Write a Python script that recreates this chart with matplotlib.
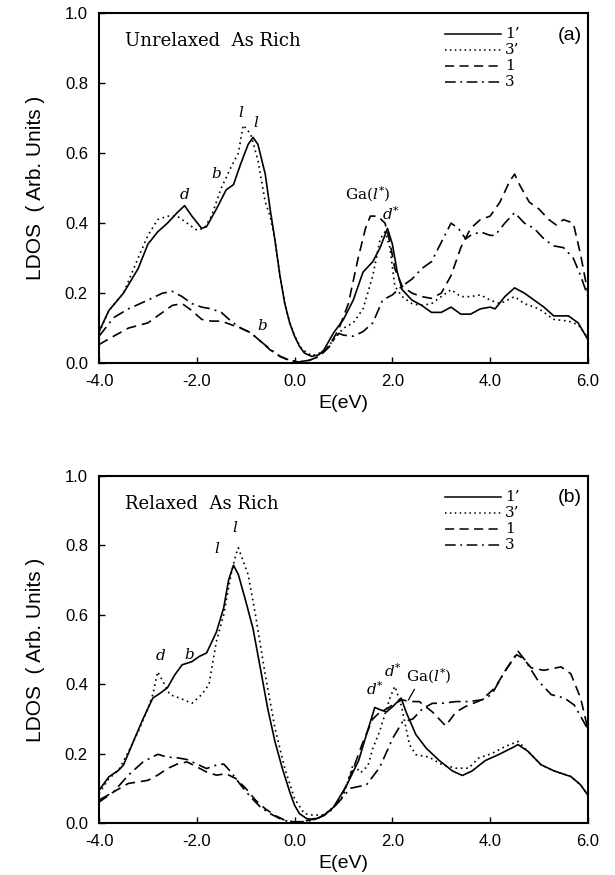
import matplotlib
matplotlib.use("Agg")
import matplotlib.pyplot as plt

plt.rcParams['font.family'] = 'Liberation Sans'
plt.rcParams['axes.unicode_minus'] = False
plt.rcParams['mathtext.fontset'] = 'dejavuserif'

# ---- panel (a): unrelaxed As rich ----
a_x1p = [-4, -3.8, -3.5, -3.2, -3.0, -2.8, -2.6, -2.4, -2.25, -2.1, -1.9, -1.8, -1.6, -1.4, -1.25, -1.1,
         -0.95, -0.85, -0.75, -0.6, -0.5, -0.4, -0.3, -0.2, -0.1, 0.0, 0.1, 0.2, 0.35, 0.5, 0.6, 0.8,
         1.0, 1.2, 1.4, 1.6, 1.75, 1.9, 2.0, 2.1, 2.2, 2.4, 2.6, 2.8, 3.0, 3.2, 3.4, 3.6, 3.8, 4.0,
         4.1, 4.3, 4.5, 4.7, 4.9, 5.1, 5.3, 5.6, 5.8, 6.0]
a_y1p = [0.09, 0.15, 0.20, 0.27, 0.34, 0.375, 0.40, 0.43, 0.45, 0.42, 0.385, 0.39, 0.44, 0.495, 0.51, 0.57,
         0.625, 0.645, 0.625, 0.54, 0.44, 0.35, 0.25, 0.17, 0.115, 0.077, 0.048, 0.029, 0.019, 0.024, 0.038, 0.087,
         0.125, 0.18, 0.26, 0.29, 0.33, 0.385, 0.34, 0.26, 0.21, 0.18, 0.165, 0.145, 0.145, 0.16, 0.14, 0.14, 0.155, 0.16,
         0.155, 0.19, 0.215, 0.20, 0.18, 0.16, 0.135, 0.135, 0.115, 0.067]

a_x3p = [-4, -3.8, -3.5, -3.2, -3.0, -2.8, -2.6, -2.4, -2.2, -2.0, -1.85, -1.7, -1.5, -1.3, -1.15, -1.05,
         -0.9, -0.75, -0.6, -0.5, -0.4, -0.3, -0.2, -0.1, 0.0, 0.15, 0.35, 0.6, 0.8, 1.0, 1.2, 1.4,
         1.6, 1.75, 1.85, 1.95, 2.05, 2.2, 2.4, 2.6, 2.8, 3.0, 3.2, 3.4, 3.6, 3.8, 4.0, 4.2, 4.5,
         4.7, 5.0, 5.3, 5.6, 5.8, 6.0]
a_y3p = [0.087, 0.15, 0.20, 0.30, 0.365, 0.41, 0.42, 0.42, 0.40, 0.38, 0.385, 0.42, 0.50, 0.56, 0.60, 0.68,
         0.655, 0.58, 0.46, 0.42, 0.35, 0.25, 0.17, 0.115, 0.077, 0.04, 0.021, 0.033, 0.067, 0.10, 0.115, 0.155,
         0.25, 0.355, 0.375, 0.33, 0.22, 0.19, 0.17, 0.165, 0.17, 0.19, 0.21, 0.19, 0.19, 0.195, 0.18, 0.17, 0.19,
         0.17, 0.155, 0.125, 0.12, 0.11, 0.072]

a_x1 = [-4, -3.7, -3.4, -3.0, -2.7, -2.5, -2.3, -2.1, -1.9, -1.7, -1.5, -1.3, -1.1, -0.9, -0.7, -0.5,
        -0.3, -0.1, 0.1, 0.3, 0.5, 0.7, 0.9, 1.1, 1.3, 1.45, 1.55, 1.7, 1.85, 1.95, 2.05, 2.2, 2.4,
        2.6, 2.8, 3.0, 3.2, 3.4, 3.6, 3.8, 4.0, 4.2, 4.4, 4.5, 4.6, 4.8, 5.0, 5.2, 5.35, 5.5, 5.7, 5.85, 6.0]
a_y1 = [0.053, 0.077, 0.10, 0.115, 0.145, 0.165, 0.17, 0.15, 0.125, 0.12, 0.12, 0.11, 0.10, 0.087, 0.063, 0.038,
        0.019, 0.007, 0.003, 0.008, 0.019, 0.048, 0.096, 0.17, 0.30, 0.385, 0.42, 0.42, 0.40, 0.345, 0.27, 0.22, 0.20,
        0.19, 0.185, 0.20, 0.25, 0.33, 0.385, 0.41, 0.42, 0.46, 0.52, 0.54, 0.51, 0.46, 0.44, 0.41, 0.395, 0.41, 0.40, 0.31, 0.20]

a_x3 = [-4, -3.7, -3.4, -3.0, -2.7, -2.5, -2.3, -2.1, -1.9, -1.7, -1.5, -1.3, -1.1, -0.9, -0.7, -0.5,
        -0.3, -0.1, 0.1, 0.3, 0.5, 0.7, 0.8, 0.9, 1.0, 1.2, 1.4, 1.6, 1.8, 2.0, 2.2, 2.4, 2.6, 2.8,
        3.0, 3.2, 3.35, 3.5, 3.6, 3.8, 4.0, 4.1, 4.3, 4.5, 4.7, 4.9, 5.1, 5.3, 5.5, 5.7, 5.85, 6.0]
a_y3 = [0.077, 0.13, 0.155, 0.18, 0.20, 0.205, 0.19, 0.17, 0.16, 0.155, 0.145, 0.12, 0.10, 0.087, 0.063, 0.04,
        0.02, 0.008, 0.004, 0.008, 0.019, 0.045, 0.067, 0.085, 0.08, 0.077, 0.09, 0.115, 0.18, 0.195, 0.22, 0.24, 0.27, 0.29,
        0.345, 0.40, 0.385, 0.355, 0.365, 0.375, 0.365, 0.365, 0.40, 0.43, 0.40, 0.385, 0.355, 0.335, 0.33, 0.30, 0.25, 0.19]

# ---- panel (b): relaxed As rich ----
b_x1p = [-4, -3.8, -3.6, -3.5, -3.3, -3.1, -2.9, -2.75, -2.6, -2.45, -2.3, -2.1, -1.95, -1.8, -1.6, -1.45,
         -1.35, -1.25, -1.15, -1.0, -0.85, -0.7, -0.55, -0.4, -0.25, -0.1, 0.0, 0.1, 0.25, 0.4, 0.6, 0.8,
         1.07, 1.31, 1.47, 1.64, 1.74, 1.88, 2.01, 2.18, 2.28, 2.48, 2.69, 2.96, 3.23, 3.43, 3.63, 3.9,
         4.17, 4.44, 4.57, 4.77, 5.04, 5.31, 5.65, 5.85, 6.0]
b_y1p = [0.094, 0.133, 0.152, 0.167, 0.234, 0.30, 0.36, 0.374, 0.39, 0.427, 0.456, 0.465, 0.48, 0.49, 0.55, 0.62,
         0.70, 0.743, 0.716, 0.64, 0.56, 0.446, 0.33, 0.234, 0.157, 0.09, 0.051, 0.027, 0.0125, 0.01, 0.022, 0.046,
         0.11, 0.18, 0.255, 0.333, 0.327, 0.32, 0.336, 0.36, 0.32, 0.255, 0.216, 0.18, 0.15, 0.137, 0.15, 0.18,
         0.197, 0.216, 0.226, 0.207, 0.168, 0.15, 0.134, 0.11, 0.08]

b_x3p = [-4, -3.8, -3.6, -3.4, -3.2, -3.0, -2.9, -2.8, -2.7, -2.55, -2.35, -2.1, -1.9, -1.75, -1.6, -1.45,
         -1.3, -1.2, -1.15, -1.05, -0.95, -0.8, -0.6, -0.4, -0.2, 0.0, 0.2, 0.4, 0.6, 0.8, 1.0, 1.2,
         1.35, 1.5, 1.6, 1.74, 1.95, 2.05, 2.18, 2.35, 2.48, 2.75, 3.02, 3.3, 3.56, 3.76, 4.03, 4.3,
         4.57, 4.77, 5.04, 5.31, 5.65, 5.85, 6.0]
b_y3p = [0.085, 0.128, 0.152, 0.205, 0.263, 0.33, 0.37, 0.436, 0.41, 0.37, 0.36, 0.345, 0.37, 0.40, 0.523, 0.60,
         0.716, 0.774, 0.793, 0.754, 0.716, 0.60, 0.427, 0.273, 0.157, 0.07, 0.027, 0.022, 0.024, 0.046, 0.08, 0.17,
         0.145, 0.165, 0.215, 0.264, 0.36, 0.394, 0.34, 0.226, 0.197, 0.19, 0.168, 0.158, 0.158, 0.187, 0.20, 0.22,
         0.235, 0.207, 0.168, 0.15, 0.134, 0.11, 0.08]

b_x1 = [-4, -3.7, -3.4, -3.0, -2.8, -2.6, -2.4, -2.2, -2.0, -1.8, -1.6, -1.4, -1.2, -1.0, -0.8, -0.6,
        -0.4, -0.2, 0.0, 0.2, 0.4, 0.6, 0.8, 1.0, 1.2, 1.4, 1.6, 1.75, 1.9, 2.05, 2.2, 2.35, 2.55, 2.82,
        3.09, 3.3, 3.5, 3.83, 4.1, 4.3, 4.54, 4.67, 4.84, 5.1, 5.45, 5.65, 5.85, 6.0]
b_y1 = [0.06, 0.09, 0.114, 0.123, 0.138, 0.157, 0.17, 0.176, 0.162, 0.147, 0.138, 0.142, 0.128, 0.10, 0.066, 0.041,
        0.022, 0.008, 0.003, 0.005, 0.0125, 0.022, 0.046, 0.09, 0.157, 0.234, 0.30, 0.32, 0.33, 0.345, 0.355, 0.35, 0.35, 0.32,
        0.28, 0.32, 0.336, 0.355, 0.39, 0.437, 0.485, 0.475, 0.447, 0.44, 0.45, 0.43, 0.36, 0.27]

b_x3 = [-4, -3.7, -3.4, -3.1, -2.8, -2.6, -2.4, -2.2, -2.0, -1.8, -1.6, -1.45, -1.3, -1.1, -0.9, -0.7,
        -0.5, -0.3, -0.1, 0.1, 0.3, 0.5, 0.7, 0.9, 1.14, 1.47, 1.74, 2.01, 2.2, 2.42, 2.62, 2.82, 3.02,
        3.3, 3.56, 3.83, 4.03, 4.3, 4.57, 4.71, 4.98, 5.25, 5.52, 5.72, 5.92, 6.0]
b_y3 = [0.066, 0.09, 0.138, 0.176, 0.198, 0.19, 0.188, 0.183, 0.17, 0.157, 0.167, 0.17, 0.147, 0.109, 0.075, 0.046,
        0.027, 0.0125, 0.003, 0.003, 0.006, 0.015, 0.03, 0.06, 0.10, 0.11, 0.16, 0.245, 0.29, 0.30, 0.33, 0.345, 0.345,
        0.35, 0.35, 0.355, 0.37, 0.437, 0.495, 0.47, 0.41, 0.37, 0.36, 0.34, 0.29, 0.27]

legend_labels = ["1\u2019", "3\u2019", "1", "3"]
styles = ["-", (0, (1, 2.2)), (0, (6, 3.5)), (0, (7, 3, 1.2, 3))]

# annotations: (text, x, y)
GA = "Ga($\\mathit{l}^{*}$)"
DSTAR = "$\\mathit{d}^{*}$"
a_notes = [("d", -2.26, 0.46), ("b", -1.61, 0.52), ("l", -1.09, 0.695), ("l", -0.79, 0.665),
           ("b", -0.66, 0.085), (GA, 1.5, 0.455), (DSTAR, 1.98, 0.40)]
b_notes = [("d", -2.75, 0.46), ("b", -2.15, 0.465), ("l", -1.59, 0.77), ("l", -1.23, 0.83),
           (DSTAR, 1.64, 0.36), (DSTAR, 2.01, 0.413), (GA, 2.75, 0.394)]

panels = [
    ([(a_x1p, a_y1p), (a_x3p, a_y3p), (a_x1, a_y1), (a_x3, a_y3)], "Unrelaxed  As Rich", "(a)", a_notes),
    ([(b_x1p, b_y1p), (b_x3p, b_y3p), (b_x1, b_y1), (b_x3, b_y3)], "Relaxed  As Rich", "(b)", b_notes),
]

fig = plt.figure(figsize=(6.15, 8.75), dpi=100)
axes = [fig.add_axes([0.161, 0.585, 0.795, 0.400]),
        fig.add_axes([0.161, 0.0594, 0.795, 0.3966])]

for ax, (curves, title, tag, notes) in zip(axes, panels):
    for (xs, ys), ls in zip(curves, styles):
        ax.plot(xs, ys, color='black', linestyle=ls, linewidth=1.2)
    ax.set_xlim(-4, 6)
    ax.set_ylim(0, 1.0)
    ax.set_xticks([-4, -2, 0, 2, 4, 6])
    ax.set_yticks([0, 0.2, 0.4, 0.6, 0.8, 1.0])
    ax.xaxis.set_major_formatter(matplotlib.ticker.FormatStrFormatter('%.1f'))
    ax.yaxis.set_major_formatter(matplotlib.ticker.FormatStrFormatter('%.1f'))
    ax.tick_params(direction='in', length=4, width=1, labelsize=12, pad=8)
    for s in ax.spines.values():
        s.set_linewidth(1.5)
    ax.set_xlabel("E(eV)", fontsize=14, labelpad=4)
    ax.set_ylabel("LDOS  ( Arb. Units )", fontsize=15, labelpad=14)
    ax.text(0.053, 0.92, title, transform=ax.transAxes, family='DejaVu Serif', fontsize=13,
            va='center', ha='left')
    ax.text(0.963, 0.937, tag, transform=ax.transAxes, fontsize=14, va='center', ha='center')
    # hand-drawn style legend
    for i, (lab, ls) in enumerate(zip(legend_labels, styles)):
        yy = 0.94 - i * 0.046
        ax.plot([0.708, 0.822], [yy, yy], transform=ax.transAxes, color='black', linestyle=ls, linewidth=1.1)
        ax.text(0.83, yy, lab, transform=ax.transAxes, family='DejaVu Serif', fontsize=11, va='center', ha='left')
    for txt, xx, yy in notes:
        st = 'normal' if txt.startswith('Ga') else 'italic'
        ax.text(xx, yy, txt, family='DejaVu Serif', style=st, fontsize=11, ha='center', va='bottom')

# small leader line from the Ga(l*) label in panel (b)
axes[1].plot([2.45, 2.33], [0.385, 0.355], color='black', linewidth=0.9)

fig.savefig("out.png", dpi=100)
